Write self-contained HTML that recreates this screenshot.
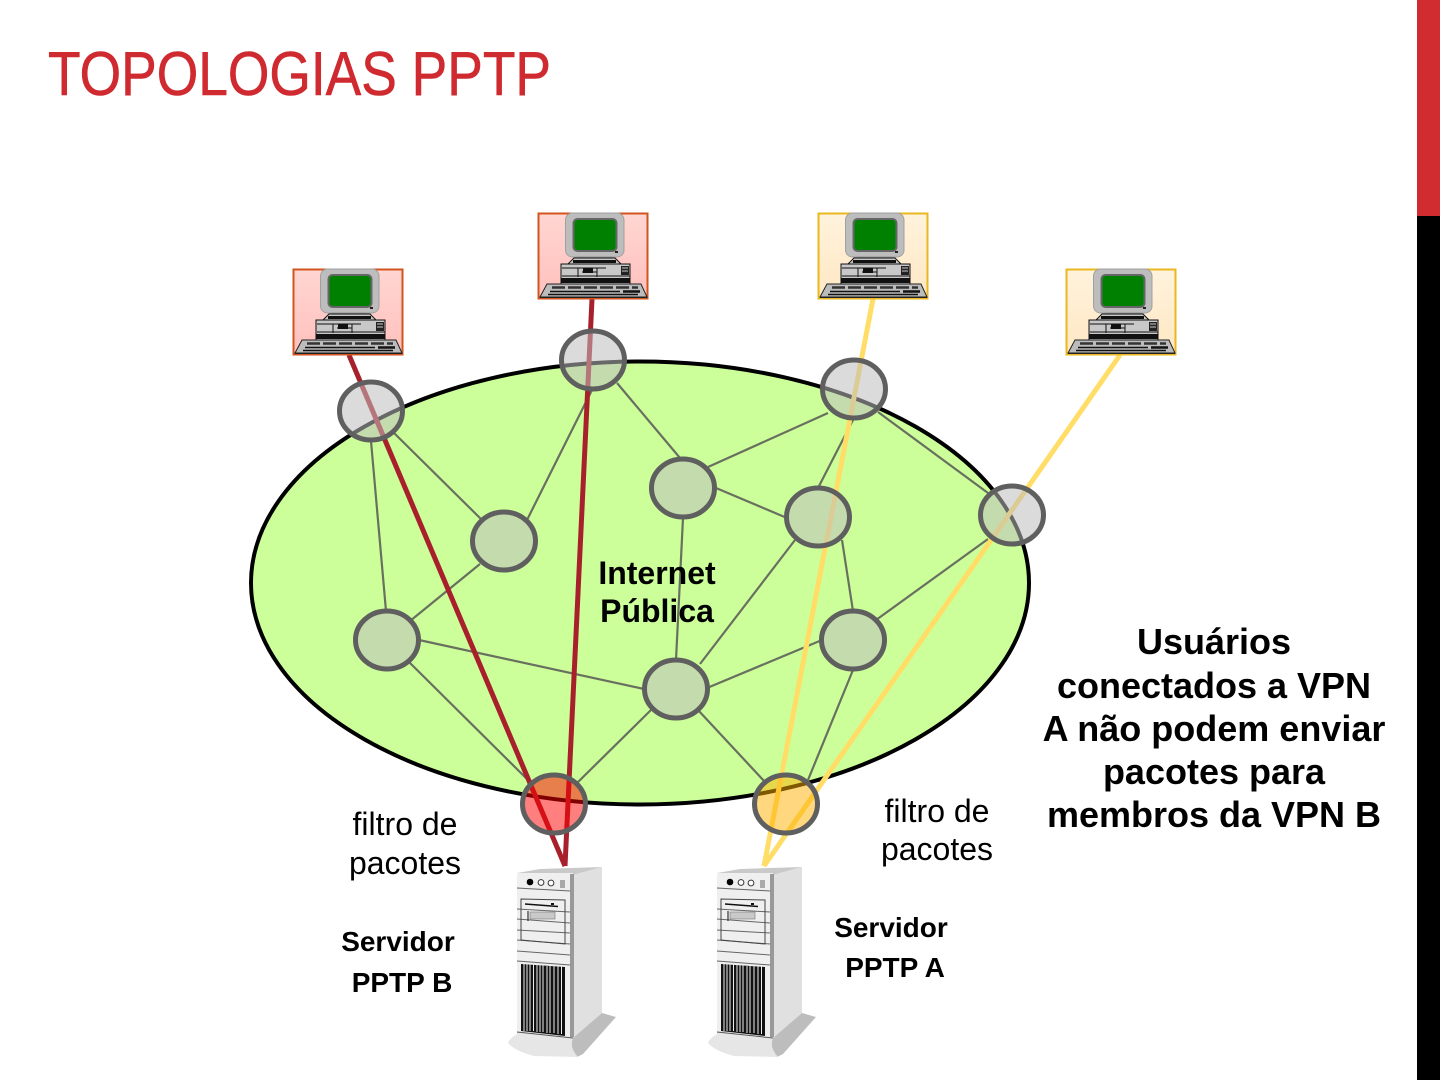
<!DOCTYPE html>
<html><head><meta charset="utf-8"><style>
html,body{margin:0;padding:0;background:#fff;width:1440px;height:1080px;overflow:hidden}
svg{display:block}
text{font-family:"Liberation Sans",Arial,sans-serif;fill:#000}
.b{font-weight:bold}
</style></head><body>
<svg width="1440" height="1080" viewBox="0 0 1440 1080" xmlns="http://www.w3.org/2000/svg">
<defs>
<linearGradient id="gr" x1="0" y1="0" x2="0" y2="1"><stop offset="0" stop-color="#ffd6d2"/><stop offset="1" stop-color="#ffc0bc"/></linearGradient>
<linearGradient id="gy" x1="0" y1="0" x2="0" y2="1"><stop offset="0" stop-color="#fff2dc"/><stop offset="1" stop-color="#ffe8c4"/></linearGradient>
<g id="pc">
  <rect x="27.500" y="0" width="58.500" height="44" rx="7" fill="#bdbdbd" stroke="#a0a0a0" stroke-width="1"/>
  <rect x="35.500" y="6" width="43" height="32" rx="4" fill="#008000" stroke="#666" stroke-width="2"/>
  <path d="M40 44h33l3 4H37z" fill="#d0d0d0" stroke="#888" stroke-width=".7"/>
  <rect x="77" y="38" width="3" height="2" fill="#222"/>
  <path d="M30 51l6-6h41l6 6z" fill="#c8c8c8" stroke="#111" stroke-width="1"/>
  <rect x="35" y="47" width="43" height="3" fill="#111"/>
  <rect x="23" y="51" width="69" height="20" fill="#c8c8c8" stroke="#111" stroke-width="1"/>
  <rect x="23" y="65" width="69" height="5" fill="#111"/>
  <path d="M24 55h44M24 63h68M40 55v9M59 55v9M44 59h15" stroke="#111" stroke-width="1"/>
  <rect x="45" y="55" width="10" height="5" fill="#111"/>
  <rect x="83" y="53" width="8" height="9" fill="#222"/>
  <path d="M84 55h6M84 58h6" stroke="#ccc"/>
  <path d="M2 84L9 71H103L109 84z" fill="#bcbcbc" stroke="#222" stroke-width="1"/>
  <path d="M14 74.500H100" stroke="#333" stroke-width="2.500" stroke-dasharray="13 3"/>
  <path d="M12 78.500H82" stroke="#111" stroke-width="1.500"/>
  <path d="M85 78.500H102" stroke="#111" stroke-width="2.500"/>
  <path d="M10 81.500H100" stroke="#111" stroke-width="1.500"/>
  <rect x="2" y="83.500" width="107" height="1.500" fill="#222"/>
</g>
<g id="srv">
  <path d="M10 6L33 2 95 0 66 8Z" fill="#c9c9c9"/>
  <path d="M66 8L95 0V146L66 171Z" fill="#e0e0e0"/>
  <path d="M10 6H66V171L10 165Z" fill="#efefef"/>
  <path d="M63 7h4v163h-4z" fill="#999"/>
  <path d="M10 21L63 24M10 42L63 45M10 52L63 56M10 63L63 66M10 73L63 77M10 84L63 88M10 94L63 98" stroke="#666" stroke-width="1" fill="none"/>
  <path d="M14 32L58 33V77L14 73Z" fill="none" stroke="#444" stroke-width="1"/>
  <path d="M18 37L51 39.500" stroke="#111" stroke-width="1.500"/><rect x="44" y="36" width="3" height="2" fill="#111"/>
  <rect x="23" y="45" width="25" height="7" fill="#c9c9c9" stroke="#777" stroke-width=".6"/><path d="M21 44v10" stroke="#111"/>
  <circle cx="23" cy="15" r="3.300" fill="#000"/>
  <circle cx="34" cy="15.500" r="2.900" fill="#fff" stroke="#333"/>
  <circle cx="44" cy="16" r="2.900" fill="#fff" stroke="#333"/>
  <rect x="53" y="13" width="5" height="8" fill="#aaa"/>
  <path d="M14 97L58 100V169L14 164Z" fill="#111"/>
  <path d="M17 97v67M20 97v67M23 97v67M26.500 97v67M30 98v67M33 98v67M36 98v67M40 99v67M43 99v67M47 99v67M51 99v68M54.500 99v68" stroke="#eee" stroke-width="1"/>
  <path d="M95 146L109 150 76 187Q70 190 70 190 62 180 66 171Z" fill="#bdbdbd"/>
  <path d="M10 165L66 171Q62 180 71 190L27 189Q8 184 1 176Q3 171 10 167Z" fill="#e6e6e6"/>
  <path d="M10 165L66 171" stroke="#555" stroke-width="1"/>
</g>
<g id="c"><ellipse rx="31.500" ry="29" stroke="#5f5f5f" stroke-width="5"/></g>
</defs>

<rect x="1417" y="0" width="23" height="216" fill="#d12d30"/>
<rect x="1417" y="216" width="23" height="864" fill="#000"/>

<text x="48" y="95" font-size="62" style="fill:#cf2a30;stroke:#cf2a30;stroke-width:.6" textLength="503" lengthAdjust="spacingAndGlyphs">TOPOLOGIAS PPTP</text>

<ellipse cx="640" cy="583" rx="389" ry="221.500" fill="#ccff99" stroke="#000" stroke-width="4"/>

<g stroke="#69705f" stroke-width="2.200" fill="none">
<path d="M393 432L482 520M371 441L386 611M592 390L527 520M617 383L680 458M708 467L828 413M716 488L787 518M683 518L676 660M853 420L818 488M878 412L988 493M795 540L700 664M842 540L853 611M988 539L876 620M410 621L480 564M419 640L644 689M409 662L530 782M822 640L707 688M853 670L808 780M652 709L577 783M698 710L765 782"/>
</g>

<g stroke-linecap="butt" fill="none" stroke-width="5">
<path d="M349 355L565 866" stroke="#a8202c"/>
<path d="M592 299L565 866" stroke="#a8202c"/>
<path d="M873 299L764 866" stroke="#ffdd66"/>
<path d="M1120 355L764 866" stroke="#ffdd66"/>
</g>

<g fill="#bebebe" fill-opacity=".55">
<use href="#c" x="371" y="411"/><use href="#c" x="593" y="360"/><use href="#c" x="854" y="389"/><use href="#c" x="1012" y="515"/>
<use href="#c" x="683" y="488"/><use href="#c" x="818" y="517"/><use href="#c" x="504" y="541"/><use href="#c" x="387" y="640"/>
<use href="#c" x="853" y="640"/><use href="#c" x="676" y="689"/>
</g>
<use href="#c" x="554" y="804" fill="#ff0000" fill-opacity=".5"/>
<use href="#c" x="786" y="804" fill="#ffb000" fill-opacity=".5"/>

<g>
<rect x="293.500" y="269.500" width="109" height="85" fill="url(#gr)" stroke="#d2541e" stroke-width="2"/>
<use href="#pc" x="293" y="269"/>
<rect x="538.500" y="213.500" width="109" height="85" fill="url(#gr)" stroke="#d2541e" stroke-width="2"/>
<use href="#pc" x="538" y="213"/>
<rect x="818.500" y="213.500" width="109" height="85" fill="url(#gy)" stroke="#eab81e" stroke-width="2"/>
<use href="#pc" x="818" y="213"/>
<rect x="1066.500" y="269.500" width="109" height="85" fill="url(#gy)" stroke="#eab81e" stroke-width="2"/>
<use href="#pc" x="1066" y="269"/>
</g>

<use href="#srv" x="507" y="867"/>
<use href="#srv" x="707" y="867"/>

<g text-anchor="middle">
<text class="b" x="657" y="584" font-size="32">Internet</text>
<text class="b" x="657" y="622" font-size="32">Pública</text>
<text class="b" x="1214" y="654" font-size="36">Usuários</text>
<text class="b" x="1214" y="698" font-size="36">conectados a VPN</text>
<text class="b" x="1214" y="741" font-size="36">A não podem enviar</text>
<text class="b" x="1214" y="784" font-size="36">pacotes para</text>
<text class="b" x="1214" y="827" font-size="36">membros da VPN B</text>
<text x="405" y="835" font-size="32">filtro de</text>
<text x="405" y="874" font-size="32">pacotes</text>
<text x="937" y="822" font-size="32">filtro de</text>
<text x="937" y="860" font-size="32">pacotes</text>
<text class="b" x="398" y="951" font-size="28">Servidor</text>
<text class="b" x="402" y="992" font-size="28">PPTP B</text>
<text class="b" x="891" y="937" font-size="28">Servidor</text>
<text class="b" x="895" y="977" font-size="28">PPTP A</text>
</g>
</svg>
</body></html>
